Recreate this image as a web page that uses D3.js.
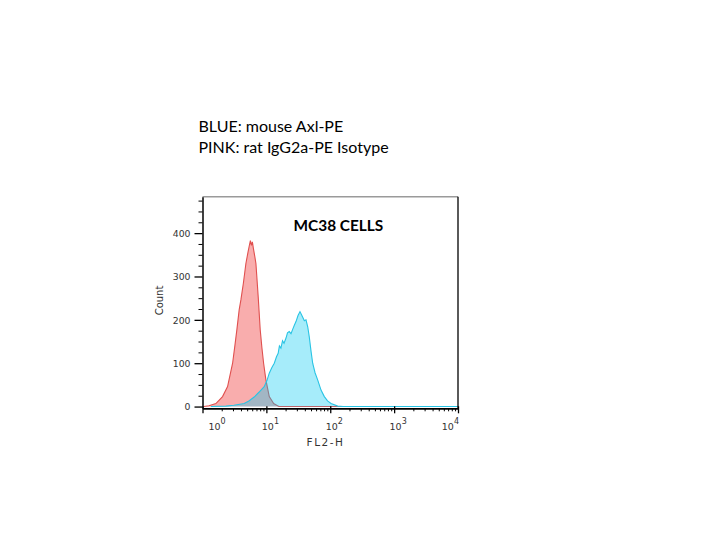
<!DOCTYPE html>
<html>
<head>
<meta charset="utf-8">
<script src="https://cdn.jsdelivr.net/npm/d3@7"></script>
<style>
    body { margin: 0; background: #fff; }
    .tick text { font-family: "DejaVu Sans", sans-serif; }
</style>
</head>
<body>
<div id="chart"></div>
<script>
// rat IgG2a-PE isotype (pink), FL2-H intensity vs count
const isoFL2 = [1.05, 1.26, 1.62, 2.06, 2.47, 2.96, 3.21, 3.45, 3.75, 3.99, 4.37, 4.78, 5.14, 5.42,
    5.62, 5.83, 6.04, 6.26, 6.61, 6.86, 7.45, 8.01, 8.52, 9.05, 9.84, 11.1, 13.0, 15.7, 10000];
const isoCount = [0, 2, 7, 23, 46, 100, 140, 177, 223, 246, 285, 330, 355, 372,
    383, 372, 380, 365, 345, 330, 253, 177, 135, 100, 61, 23, 7, 0, 0];

// mouse Axl-PE (blue)
const axlFL2 = [1.35, 2.32, 3.10, 4.49, 5.32, 6.45, 7.64, 9.25, 10.2, 11.1, 12.2, 13.3, 14.4, 15.3,
    16.0, 16.9, 17.9, 18.9, 20.3, 21.4, 22.8, 24.3, 25.8, 27.5, 29.1, 31.3, 33.6, 35.5, 37.4, 39.3,
    41.7, 44.4, 47.0, 50.0, 53.1, 57.8, 63.7, 71.7, 80.8, 90.7, 103, 131, 159, 10000];
const axlCount = [0, 1, 3, 7, 13, 22, 33, 46, 60, 77, 90, 100, 115, 123,
    140, 135, 152, 146, 158, 170, 173, 168, 178, 188, 196, 210, 219, 212, 205, 198,
    200, 184, 160, 128, 100, 78, 61, 38, 23, 13, 7, 1, 0, 0];

const yTicks = [0, 100, 200, 300, 400];
const yMinor = [25, 50, 75, 125, 150, 175, 225, 250, 275, 325, 350, 375, 425, 450, 475];
const xDecades = [1, 10, 100, 1000, 10000];
const xExponents = ["0", "1", "2", "3", "4"];

const legendLines = ["BLUE: mouse Axl-PE", "PINK: rat IgG2a-PE Isotype"];
const titleText = "MC38 CELLS";
const xLabel = "FL2-H";
const yLabel = "Count";

class histogramOverlay {
    constructor(parentElement) {
        this.parentElement = parentElement;
        this.series = [
            {name: "iso", values: isoFL2.map((d, i) => ({v: d, c: isoCount[i]})),
                fill: "#f9adad", fillOpacity: 1, stroke: "#e0504f"},
            {name: "axl", values: axlFL2.map((d, i) => ({v: d, c: axlCount[i]})),
                fill: "rgb(0,200,240)", fillOpacity: 0.35, stroke: "#29c4e4"}
        ];
    }

    initViz() {
        let vis = this;

        vis.margin = {top: 196.7, left: 202.5};
        vis.width = 255.5;
        vis.height = 211.6;

        vis.root = d3.select("#" + vis.parentElement).append("svg")
            .attr("width", 720)
            .attr("height", 540);

        vis.svg = vis.root.append("g")
            .attr("transform", "translate(" + vis.margin.left + "," + vis.margin.top + ")");

        vis.x = d3.scaleLog().domain([1, 1e4]).range([0, vis.width]);
        vis.y = d3.scaleLinear().domain([-4, 484]).range([vis.height, 0]);

        vis.updateViz();
    }

    updateViz() {
        let vis = this;

        let area = d3.area()
            .x(d => vis.x(d.v))
            .y0(vis.y(0))
            .y1(d => vis.y(d.c));
        let line = d3.line()
            .x(d => vis.x(d.v))
            .y(d => vis.y(d.c));

        vis.series.forEach(function (s) {
            vis.svg.append("path")
                .datum(s.values)
                .attr("fill", s.fill)
                .attr("fill-opacity", s.fillOpacity)
                .attr("d", area);
            vis.svg.append("path")
                .datum(s.values)
                .attr("fill", "none")
                .attr("stroke", s.stroke)
                .attr("stroke-width", 1.1)
                .attr("d", line);
        });

        // frame: grey top, black right
        vis.svg.append("line")
            .attr("x1", 0).attr("x2", vis.width)
            .attr("y1", 0).attr("y2", 0)
            .attr("stroke", "#9a9a9a").attr("stroke-width", 1.5);
        vis.svg.append("line")
            .attr("x1", vis.width).attr("x2", vis.width)
            .attr("y1", 0).attr("y2", vis.height)
            .attr("stroke", "#000").attr("stroke-width", 1.3);

        // y axis
        let yAxis = vis.svg.append("g")
            .call(d3.axisLeft(vis.y).tickValues(yTicks).tickSize(8).tickSizeOuter(0).tickPadding(4));
        yAxis.select(".domain").attr("stroke-width", 1.5);
        yAxis.selectAll(".tick line").attr("stroke-width", 1.3);
        yAxis.selectAll(".tick text")
            .attr("font-size", "9.3px")
            .attr("fill", "#333")
            .attr("dy", "0.36em");
        vis.svg.append("g")
            .call(d3.axisLeft(vis.y).tickValues(yMinor).tickSize(4).tickFormat(""))
            .call(g => g.select(".domain").remove());

        // x axis
        let xMinor = [];
        xDecades.slice(0, -1).forEach(d => d3.range(2, 10).forEach(k => xMinor.push(d * k)));

        let xAxis = vis.svg.append("g")
            .attr("transform", "translate(0," + vis.height + ")")
            .call(d3.axisBottom(vis.x).tickValues(xDecades).tickSize(5).tickSizeOuter(0).tickFormat(""));
        xAxis.select(".domain").attr("stroke-width", 1.8);
        xAxis.selectAll(".tick line").attr("y1", -2).attr("stroke-width", 1.3);
        vis.svg.append("g")
            .attr("transform", "translate(0," + vis.height + ")")
            .call(d3.axisBottom(vis.x).tickValues(xMinor).tickSize(3).tickFormat(""))
            .call(g => g.select(".domain").remove());

        let lab = vis.svg.append("g")
            .attr("font-family", "DejaVu Sans, sans-serif")
            .attr("fill", "#333");
        xDecades.forEach(function (d, i) {
            let px = vis.x(d);
            let anchor = "middle", off = 4;
            if (i === 0) { anchor = "start"; off = 6; }
            if (i === xDecades.length - 1) { anchor = "end"; off = 1; }
            let t = lab.append("text")
                .attr("x", px + off)
                .attr("y", vis.height + 22)
                .attr("text-anchor", anchor)
                .attr("font-size", "9.5px");
            t.append("tspan").text("10");
            t.append("tspan").attr("dy", -6).attr("font-size", "8px").text(xExponents[i]);
        });

        lab.append("text")
            .attr("x", 123)
            .attr("y", vis.height + 38)
            .attr("text-anchor", "middle")
            .attr("font-size", "10.5px")
            .attr("letter-spacing", "1.5px")
            .text(xLabel);

        lab.append("text")
            .attr("transform", "translate(-39.5,103.8) rotate(-90)")
            .attr("text-anchor", "middle")
            .attr("font-size", "10px")
            .text(yLabel);

        // title inside plot
        vis.root.append("text")
            .attr("x", 293.5)
            .attr("y", 231.3)
            .attr("font-family", "Lato, sans-serif")
            .attr("font-weight", "bold")
            .attr("font-size", "15.4px")
            .attr("fill", "#000")
            .text(titleText);

        // legend text
        vis.root.selectAll(".legend")
            .data(legendLines)
            .enter().append("text")
            .attr("class", "legend")
            .attr("x", 198.5)
            .attr("y", (d, i) => 132 + i * 20.5)
            .attr("font-family", "Lato, sans-serif")
            .attr("font-size", "16px")
            .attr("fill", "#000")
            .text(d => d);
    }
}

let viz = new histogramOverlay("chart");
viz.initViz();
</script>
</body>
</html>
